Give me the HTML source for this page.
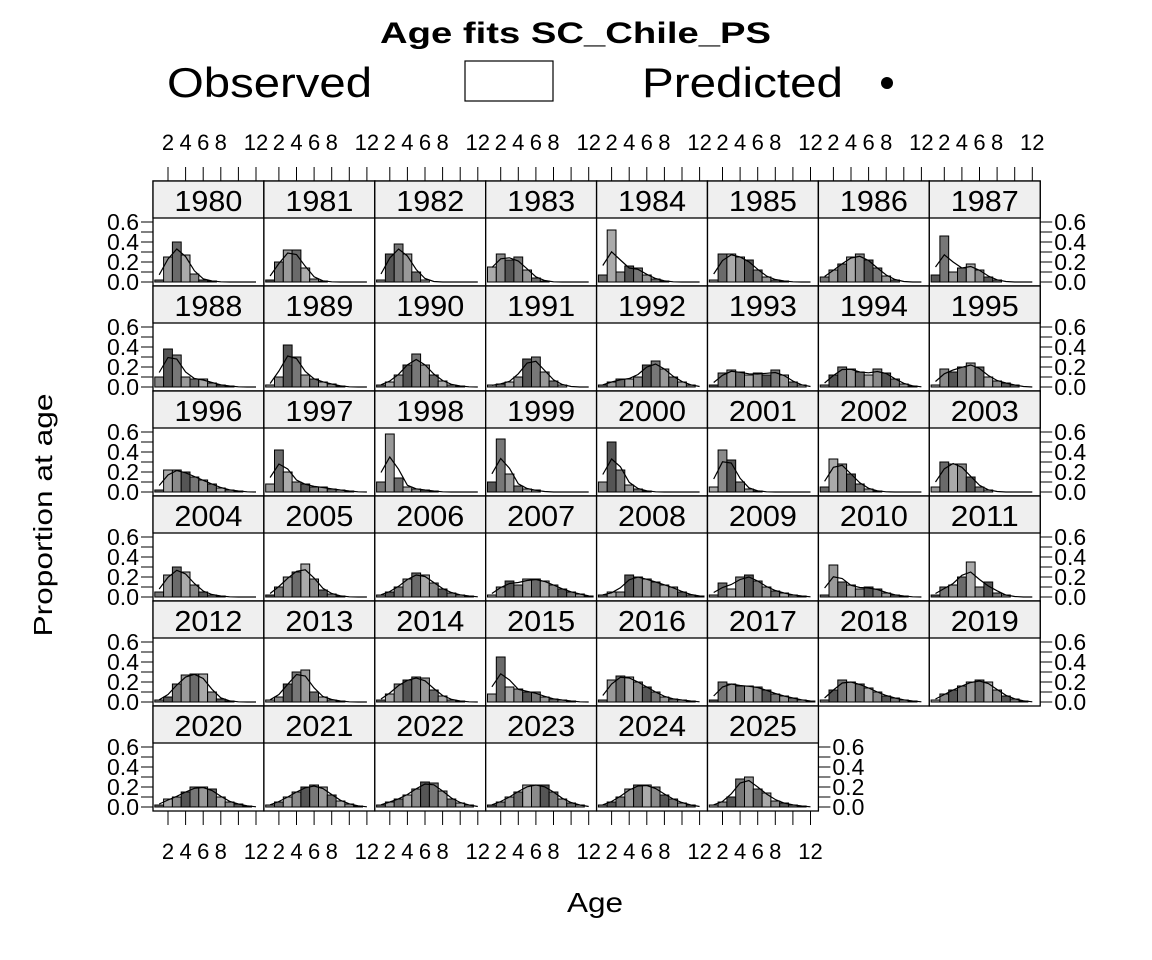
<!DOCTYPE html>
<html><head><meta charset="utf-8"><style>
html,body{margin:0;padding:0;background:#fff;}
svg{display:block;font-family:"Liberation Sans",Arial,sans-serif;}
</style></head><body>
<svg id="s" width="1152" height="960" viewBox="0 0 1152 960" xmlns="http://www.w3.org/2000/svg"></svg>
<script>
const D={
1980:[.02,.25,.4,.27,.08,.02,.01,0,0,0,0,0],
1981:[.02,.2,.32,.32,.14,.03,.01,0,0,0,0,0],
1982:[.02,.28,.38,.28,.1,.02,0,0,0,0,0,0],
1983:[.15,.28,.22,.25,.12,.04,.01,0,0,0,0,0],
1984:[.07,.52,.1,.16,.14,.07,.03,.01,0,0,0,0],
1985:[.02,.28,.28,.25,.22,.12,.05,.02,.01,0,0,0],
1986:[.05,.12,.18,.25,.28,.22,.14,.06,.02,0,0,0],
1987:[.07,.46,.1,.14,.18,.12,.05,.02,0,0,0,0],
1988:[.1,.38,.32,.1,.08,.08,.04,.02,.01,0,0,0],
1989:[.02,.1,.42,.3,.12,.08,.05,.03,.01,0,0,0],
1990:[.02,.05,.12,.22,.33,.22,.12,.06,.02,.01,0,0],
1991:[.02,.03,.05,.1,.28,.3,.15,.06,.02,0,0,0],
1992:[.02,.05,.08,.08,.1,.22,.26,.18,.1,.05,.02,0],
1993:[.02,.14,.17,.15,.12,.14,.12,.17,.12,.05,.02,0],
1994:[.02,.12,.2,.18,.15,.12,.18,.14,.08,.03,.01,0],
1995:[.02,.18,.15,.2,.24,.2,.1,.06,.04,.02,0,0],
1996:[.02,.22,.22,.2,.15,.12,.08,.04,.02,.01,0,0],
1997:[.08,.42,.2,.1,.08,.05,.05,.03,.02,.01,0,0],
1998:[.1,.58,.14,.05,.03,.02,.01,0,0,0,0,0],
1999:[.1,.53,.18,.06,.03,.02,0,0,0,0,0,0],
2000:[.1,.5,.22,.07,.03,.01,0,0,0,0,0,0],
2001:[.05,.42,.32,.1,.03,.01,0,0,0,0,0,0],
2002:[.05,.33,.28,.18,.08,.03,.01,0,0,0,0,0],
2003:[.05,.3,.28,.28,.15,.05,.02,0,0,0,0,0],
2004:[.05,.22,.3,.25,.12,.05,.02,.01,0,0,0,0],
2005:[.02,.1,.2,.25,.33,.18,.07,.03,.01,0,0,0],
2006:[.02,.05,.1,.18,.24,.22,.14,.08,.04,.02,.01,0],
2007:[.02,.1,.16,.12,.18,.18,.16,.12,.08,.05,.03,.01],
2008:[.02,.05,.05,.22,.2,.18,.15,.12,.1,.05,.02,.01],
2009:[.02,.14,.08,.2,.22,.16,.1,.06,.04,.02,.01,0],
2010:[.02,.32,.15,.12,.08,.1,.08,.04,.02,.01,0,0],
2011:[.02,.1,.12,.2,.35,.1,.15,.04,.02,0,0,0],
2012:[.02,.05,.18,.27,.28,.28,.1,.03,.01,0,0,0],
2013:[.02,.05,.18,.3,.32,.1,.05,.02,.01,0,0,0],
2014:[.02,.08,.18,.22,.25,.24,.12,.06,.02,.01,0,0],
2015:[.08,.45,.15,.13,.1,.1,.05,.03,.02,.01,0,0],
2016:[.02,.22,.26,.25,.2,.15,.1,.05,.03,.02,.01,0],
2017:[.02,.2,.18,.16,.16,.15,.12,.08,.06,.04,.02,.01],
2018:[.02,.12,.22,.2,.18,.14,.1,.06,.04,.02,.01,0],
2019:[.02,.08,.12,.16,.2,.22,.2,.12,.06,.03,.01,0],
2020:[.02,.08,.1,.15,.2,.2,.18,.1,.05,.03,.01,0],
2021:[.02,.05,.1,.15,.2,.22,.2,.12,.06,.03,.01,0],
2022:[.02,.05,.08,.12,.18,.25,.24,.16,.08,.04,.02,0],
2023:[.02,.05,.1,.15,.22,.22,.22,.15,.08,.04,.02,0],
2024:[.02,.05,.1,.18,.22,.22,.2,.12,.08,.04,.02,0],
2025:[.02,.05,.1,.28,.3,.18,.14,.06,.04,.02,.01,0]};
const greys=["#555","#8a8a8a","#aaa","#6a6a6a","#999","#777"];
let h='';
const LA='lengthAdjust="spacingAndGlyphs"';
h+=`<text x="380" y="43" font-size="30" font-weight="bold" textLength="391" ${LA}>Age fits SC_Chile_PS</text>`;
h+=`<text x="167" y="97" font-size="42" textLength="205" ${LA}>Observed</text>`;
h+='<rect x="465" y="61" width="88" height="40" fill="#fff" stroke="#000" stroke-width="1.2"/>';
h+=`<text x="642" y="97" font-size="42" textLength="201" ${LA}>Predicted</text>`;
h+='<circle cx="887" cy="83" r="6" fill="#000"/>';
const L=153,W=110.9,T=181,RP=105;
function xa(left,a){return left+15+(a-2)*8.8;}
for(let y=1980;y<=2025;y++){
  const i=y-1980,c=i%8,r=Math.floor(i/8);
  const left=L+c*W,top=T+r*RP,z=top+101;
  h+=`<rect x="${left}" y="${top}" width="${W}" height="${RP}" fill="#fff" stroke="#000" stroke-width="1.3"/>`;
  h+=`<rect x="${left}" y="${top}" width="${W}" height="37" fill="#efefef" stroke="#000" stroke-width="1.3"/>`;
  h+=`<text x="${left+W/2}" y="${top+30}" font-size="29" text-anchor="middle" textLength="68" ${LA}>${y}</text>`;
  const o=D[y];
  o.forEach((v,k)=>{const a=k+1;if(v<=0)return;const cx=xa(left,a);
    h+=`<rect x="${(cx-4.4).toFixed(1)}" y="${(z-v*100).toFixed(1)}" width="8.8" height="${(v*100).toFixed(1)}" fill="${greys[((y-a)%6+6)%6]}" stroke="#000" stroke-width="1"/>`;});
  let pts=[];
  for(let k=0;k<12;k++){const p=0.25*(o[k-1]||0)+0.5*o[k]+0.25*(o[k+1]||0);pts.push(xa(left,k+1).toFixed(1)+','+(z-p*100).toFixed(1));}
  h+=`<polyline points="${pts.join(' ')}" fill="none" stroke="#000" stroke-width="1.2"/>`;
  const lastRow=(r==5), rightCol=(c==7)||(y==2025);
  if(c==0){for(let t=0;t<=6;t++){const yy=z-t*10;h+=`<line x1="${left-12}" y1="${yy}" x2="${left}" y2="${yy}" stroke="#000"/>`;}
    [0,2,4,6].forEach(t=>h+=`<text x="${left-14}" y="${z-t*10+8}" font-size="23" text-anchor="end">0.${t}</text>`);}
  if(rightCol){const rx=left+W;for(let t=0;t<=6;t++){const yy=z-t*10;h+=`<line x1="${rx}" y1="${yy}" x2="${rx+12}" y2="${yy}" stroke="#000"/>`;}
    [0,2,4,6].forEach(t=>h+=`<text x="${rx+14}" y="${z-t*10+8}" font-size="23">0.${t}</text>`);}
  if(r==0){for(let a=2;a<=12;a+=2){const xx=xa(left,a);h+=`<line x1="${xx}" y1="${top-14}" x2="${xx}" y2="${top}" stroke="#000"/>`;
    if(a!=10)h+=`<text x="${xx}" y="${top-31}" font-size="22" text-anchor="middle">${a}</text>`;}}
  if(lastRow){const b=top+RP;for(let a=2;a<=12;a+=2){const xx=xa(left,a);h+=`<line x1="${xx}" y1="${b}" x2="${xx}" y2="${b+14}" stroke="#000"/>`;
    if(a!=10)h+=`<text x="${xx}" y="${b+48}" font-size="22" text-anchor="middle">${a}</text>`;}}
}
h+=`<text transform="translate(52,515) rotate(-90)" font-size="26" text-anchor="middle" textLength="243" ${LA}>Proportion at age</text>`;
h+=`<text x="595" y="912" font-size="28" text-anchor="middle" textLength="56" ${LA}>Age</text>`;
document.getElementById('s').innerHTML=h;
</script>
</body></html>
